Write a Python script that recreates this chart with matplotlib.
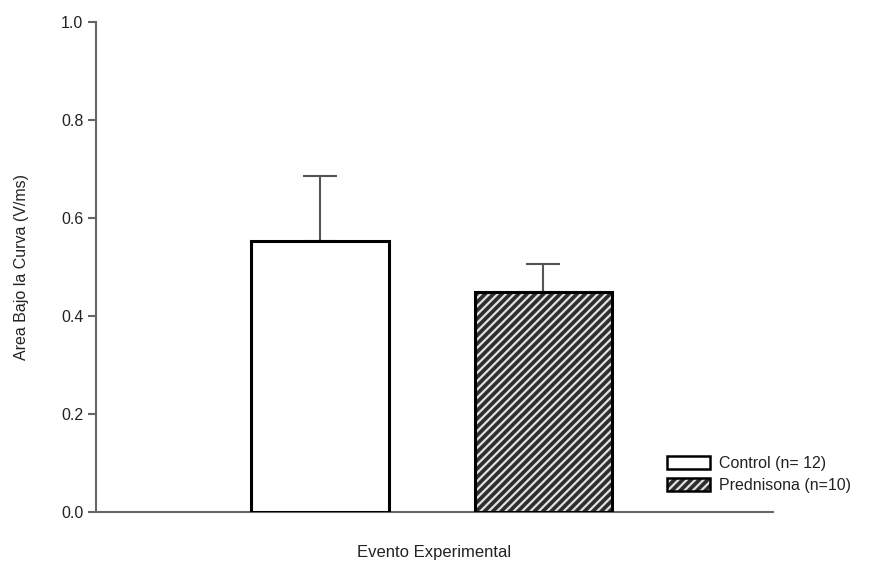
import matplotlib
matplotlib.use("Agg")
import matplotlib.pyplot as plt
from matplotlib.patches import Patch
from matplotlib.legend_handler import HandlerBase
from matplotlib.patches import Rectangle

plt.rcParams['font.family'] = ['Liberation Sans', 'DejaVu Sans']

categories = ["Control (n= 12)", "Prednisona (n=10)"]
means = [0.553, 0.449]
errors = [0.133, 0.058]
yticks = [0.0, 0.2, 0.4, 0.6, 0.8, 1.0]

W, H = 881, 568
fig = plt.figure(figsize=(W/100, H/100), dpi=100)
ax = fig.add_axes([96/W, 1-512/H, (773-96)/W, (512-22)/H])

pos = [0, 1]
bw = 0.615
# Control
ax.bar(pos[0], means[0], width=bw, facecolor='white', edgecolor='black', linewidth=2.2, zorder=3)
# Prednisona: hatch layer then outline
plt.rcParams['hatch.linewidth'] = 1.6
ax.bar(pos[1], means[1], width=bw, facecolor='#2e2e2e', edgecolor='#e0e0e0', hatch='////', linewidth=0, zorder=3)
ax.bar(pos[1], means[1], width=bw, facecolor='none', edgecolor='black', linewidth=2.2, zorder=4)
ax.errorbar(pos, means, yerr=[[0, 0], errors], fmt='none', ecolor='#555555', elinewidth=1.5,
            capsize=12, capthick=1.5, zorder=2)

ax.set_xlim(-1.004, 2.03)
ax.set_ylim(0, 1.0)
ax.set_yticks(yticks)
ax.set_yticklabels([f"{v:.1f}" for v in yticks], fontsize=11.5, color='#222222')
ax.set_xticks([])
for s in ['top', 'right']:
    ax.spines[s].set_visible(False)
for s in ['left', 'bottom']:
    ax.spines[s].set_color('#666666')
    ax.spines[s].set_linewidth(1.5)
ax.tick_params(axis='y', direction='out', length=6, width=1.5, color='#666666', pad=3)
ax.set_ylabel("Area Bajo la Curva (V/ms)", fontsize=11.5, labelpad=23, color='#222222')
ax.set_xlabel("Evento Experimental", fontsize=12, labelpad=24, color='#222222')

class HatchHandler(HandlerBase):
    def create_artists(self, legend, orig_handle, xdescent, ydescent, width, height, fontsize, trans):
        r1 = Rectangle((-xdescent, -ydescent), width, height, facecolor='#2e2e2e', edgecolor='#e0e0e0',
                       hatch='////', linewidth=0, transform=trans)
        r2 = Rectangle((-xdescent, -ydescent), width, height, facecolor='none', edgecolor='black',
                       linewidth=1.8, transform=trans)
        return [r1, r2]

h1 = Patch(facecolor='white', edgecolor='black', linewidth=1.8)
h2 = Patch(facecolor='#2e2e2e')
leg = fig.legend([h1, h2], categories, loc='upper left', bbox_to_anchor=(667/W, 1-456/H),
                 frameon=False, fontsize=11.5, handlelength=2.7, handleheight=0.9,
                 handletextpad=0.55, labelspacing=0.4, borderpad=0, borderaxespad=0,
                 handler_map={h2: HatchHandler()})
for t in leg.get_texts():
    t.set_color('#222222')

fig.savefig("out.png", dpi=100)
